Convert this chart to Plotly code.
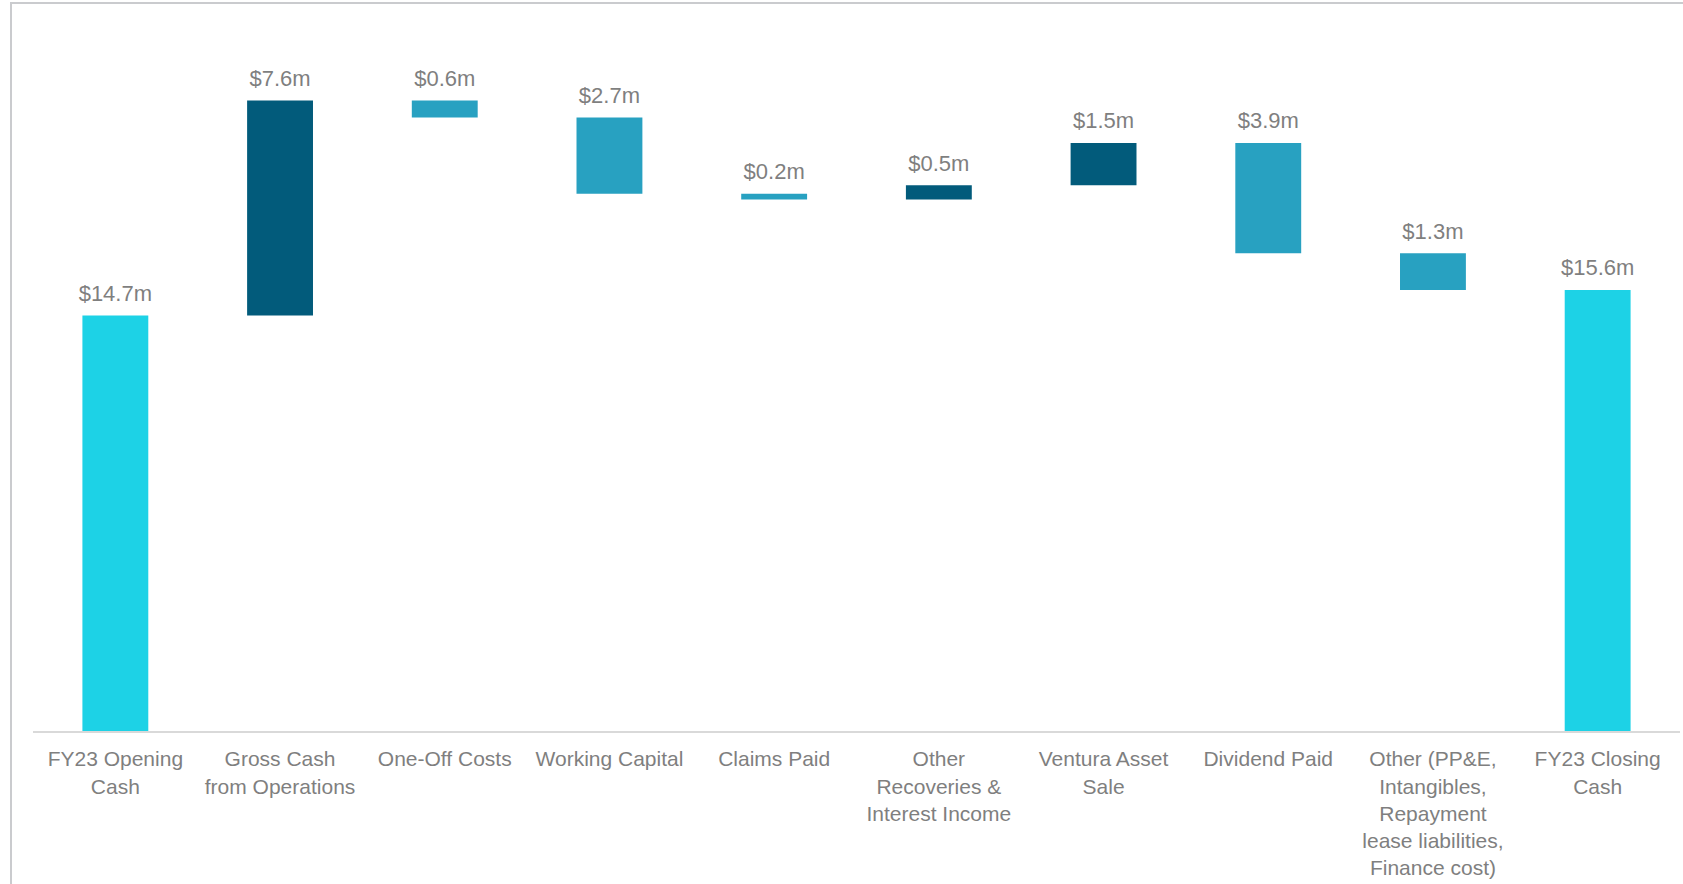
import plotly.graph_objects as go

categories = [
    "FY23 Opening<br>Cash",
    "Gross Cash<br>from Operations",
    "One-Off Costs",
    "Working Capital",
    "Claims Paid",
    "Other<br>Recoveries &<br>Interest Income",
    "Ventura Asset<br>Sale",
    "Dividend Paid",
    "Other (PP&E,<br>Intangibles,<br>Repayment<br>lease liabilities,<br>Finance cost)",
    "FY23 Closing<br>Cash",
]
# signed movements; first and last are totals
values = [14.7, 7.6, -0.6, -2.7, -0.2, 0.5, 1.5, -3.9, -1.3, 15.6]
kinds = ["total", "up", "down", "down", "down", "up", "up", "down", "down", "total"]
labels = ["$14.7m", "$7.6m", "$0.6m", "$2.7m", "$0.2m", "$0.5m", "$1.5m", "$3.9m", "$1.3m", "$15.6m"]

colors = {"total": "#1DD2E6", "up": "#025B7B", "down": "#28A1C1"}

bases, heights, tops = [], [], []
running = 0.0
for v, k in zip(values, kinds):
    if k == "total":
        bases.append(0.0)
        heights.append(v)
        tops.append(v)
        running = v
    else:
        start = running
        running = running + v
        bases.append(min(start, running))
        heights.append(abs(v))
        tops.append(max(start, running))

fig = go.Figure()
fig.add_trace(go.Bar(
    x=categories, y=heights, base=bases,
    marker=dict(color=[colors[k] for k in kinds], line=dict(width=0)),
    hoverinfo="skip",
))
fig.add_trace(go.Scatter(
    x=categories, y=tops, mode="markers+text", text=labels,
    textposition="top center",
    marker=dict(size=13, color="rgba(0,0,0,0)"),
    textfont=dict(size=22, color="#7F7F7F", family="Liberation Sans, Arial, sans-serif"),
    hoverinfo="skip",
))

fig.update_layout(
    width=1683, height=884,
    margin=dict(l=33, r=3, t=40, b=153),
    paper_bgcolor="white", plot_bgcolor="white",
    showlegend=False,
    bargap=0.6,
    font=dict(family="Liberation Sans, Arial, sans-serif", color="#7F7F7F", size=21),
    xaxis=dict(
        range=[-0.5, len(categories) - 0.5],
        showgrid=False, zeroline=False,
        showline=True, linecolor="#D9D9D9", linewidth=2,
        ticks="", tickfont=dict(size=21, color="#7F7F7F"),
        ticklabelstandoff=8,
        fixedrange=True,
    ),
    yaxis=dict(
        range=[0, 24.44], showgrid=False, zeroline=False,
        showline=False, showticklabels=False, ticks="",
        fixedrange=True,
    ),
    shapes=[dict(
        type="rect", xref="paper", yref="paper",
        x0=-0.01336, x1=1.01, y0=-0.4, y1=1.0535,
        line=dict(color="#CACBCE", width=2), fillcolor="rgba(0,0,0,0)",
        layer="below",
    )],
)

fig.write_html(
    "out.html",
    config={"displayModeBar": False},
    post_script="document.body.style.margin='0px';document.body.style.overflow='hidden';",
)
